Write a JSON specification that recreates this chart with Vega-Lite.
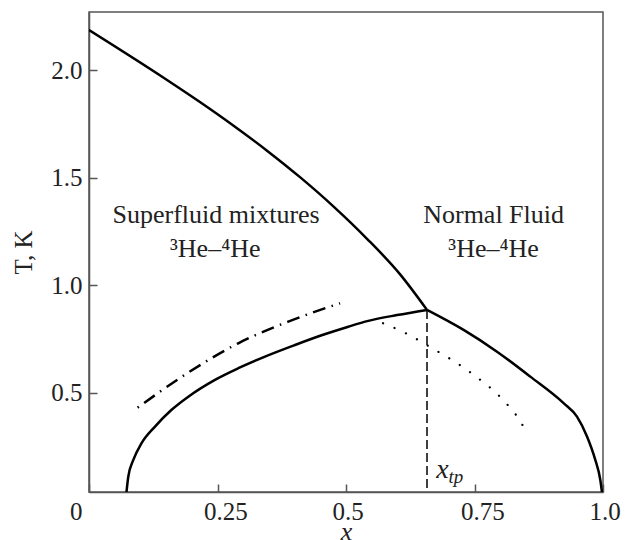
{
  "$schema": "https://vega.github.io/schema/vega-lite/v6.json",
  "width": 514,
  "height": 480,
  "autosize": {"type": "none"},
  "padding": {"left": 89, "top": 12, "right": 31, "bottom": 48},
  "background": "white",
  "config": {
    "view": {"stroke": "#555", "strokeWidth": 1.5},
    "font": "Liberation Serif",
    "axis": {
      "domainColor": "#555", "domainWidth": 1.5,
      "tickColor": "#555", "tickWidth": 1.5, "tickSize": -8,
      "grid": false,
      "labelFont": "Liberation Serif", "labelFontSize": 25, "labelColor": "#222",
      "titleFont": "Liberation Serif", "titleFontWeight": "normal", "titleColor": "#222"
    }
  },
  "datasets": {
    "curves": [
      {"series": "lambda", "x": 0.0, "T": 2.186},
      {"series": "lambda", "x": 0.1518, "T": 1.954},
      {"series": "lambda", "x": 0.2165, "T": 1.8505},
      {"series": "lambda", "x": 0.2813, "T": 1.7416},
      {"series": "lambda", "x": 0.3463, "T": 1.6259},
      {"series": "lambda", "x": 0.4111, "T": 1.5015},
      {"series": "lambda", "x": 0.4759, "T": 1.366},
      {"series": "lambda", "x": 0.5409, "T": 1.2165},
      {"series": "lambda", "x": 0.6057, "T": 1.05},
      {"series": "lambda", "x": 0.6576, "T": 0.886},
      {"series": "left", "x": 0.0712, "T": 0.0},
      {"series": "left", "x": 0.0765, "T": 0.112},
      {"series": "left", "x": 0.0862, "T": 0.189},
      {"series": "left", "x": 0.1023, "T": 0.267},
      {"series": "left", "x": 0.1284, "T": 0.344},
      {"series": "left", "x": 0.1607, "T": 0.422},
      {"series": "left", "x": 0.1932, "T": 0.483},
      {"series": "left", "x": 0.2451, "T": 0.561},
      {"series": "left", "x": 0.2905, "T": 0.615},
      {"series": "left", "x": 0.3424, "T": 0.669},
      {"series": "left", "x": 0.4008, "T": 0.723},
      {"series": "left", "x": 0.4525, "T": 0.768},
      {"series": "left", "x": 0.5045, "T": 0.808},
      {"series": "left", "x": 0.5434, "T": 0.835},
      {"series": "left", "x": 0.5992, "T": 0.862},
      {"series": "left", "x": 0.6576, "T": 0.886},
      {"series": "right", "x": 0.6576, "T": 0.886},
      {"series": "right", "x": 0.7288, "T": 0.793},
      {"series": "right", "x": 0.7938, "T": 0.692},
      {"series": "right", "x": 0.8586, "T": 0.576},
      {"series": "right", "x": 0.9233, "T": 0.453},
      {"series": "right", "x": 0.9494, "T": 0.39},
      {"series": "right", "x": 0.9689, "T": 0.298},
      {"series": "right", "x": 0.985, "T": 0.189},
      {"series": "right", "x": 0.9947, "T": 0.097},
      {"series": "right", "x": 1.0, "T": 0.0},
      {"series": "dashdot", "x": 0.0946, "T": 0.432},
      {"series": "dashdot", "x": 0.1932, "T": 0.595},
      {"series": "dashdot", "x": 0.2905, "T": 0.731},
      {"series": "dashdot", "x": 0.3877, "T": 0.8315},
      {"series": "dashdot", "x": 0.4883, "T": 0.917},
      {"series": "dotted", "x": 0.572, "T": 0.824},
      {"series": "dotted", "x": 0.616, "T": 0.778},
      {"series": "dotted", "x": 0.6627, "T": 0.715},
      {"series": "dotted", "x": 0.747, "T": 0.587},
      {"series": "dotted", "x": 0.8054, "T": 0.468},
      {"series": "dotted", "x": 0.839, "T": 0.369},
      {"series": "dotted", "x": 0.851, "T": 0.318}
    ],
    "tp": [
      {"x": 0.6576, "T": 0.886, "T0": 0.0}
    ],
    "labels": [
      {"label": "Superfluid mixtures", "x": 0.2473, "T": 1.288},
      {"label": "³He–⁴He", "x": 0.2457, "T": 1.133},
      {"label": "Normal Fluid", "x": 0.7872, "T": 1.288},
      {"label": "³He–⁴He", "x": 0.7872, "T": 1.133}
    ],
    "xtp": [
      {"label": "x", "x": 0.6757, "T": 0.1045}
    ],
    "xtpsub": [
      {"label": "tp", "x": 0.6996, "T": 0.081}
    ]
  },
  "encoding": {
    "x": {
      "field": "x", "type": "quantitative",
      "scale": {"domain": [0, 1], "nice": false, "zero": false},
      "axis": {
        "title": "x", "titleFontStyle": "italic", "titleFontSize": 26, "titlePadding": -6,
        "values": [0, 0.25, 0.5, 0.75, 1],
        "labelExpr": "datum.value == 0 ? '0' : datum.value == 1 ? '1.0' : '' + datum.value",
        "labelAlign": {"condition": {"test": "datum.value == 0", "value": "right"}, "value": "left"},
        "labelOffset": {"condition": {"test": "datum.value == 0", "value": -7}, "value": -14},
        "labelPadding": 15, "labelFlush": false, "labelOverlap": false
      }
    },
    "y": {
      "field": "T", "type": "quantitative",
      "scale": {"domain": [0.04, 2.27], "nice": false, "zero": false},
      "axis": {
        "title": "T, K", "titleFontSize": 25, "titlePadding": 14,
        "values": [0.5, 1.0, 1.5, 2.0], "format": ".1f",
        "labelPadding": 15
      }
    }
  },
  "layer": [
    {
      "data": {"name": "curves"},
      "transform": [{"filter": "datum.series == 'lambda' || datum.series == 'left' || datum.series == 'right'"}],
      "mark": {"type": "line", "interpolate": "monotone", "color": "#000", "strokeWidth": 2.5, "clip": true},
      "encoding": {"detail": {"field": "series"}}
    },
    {
      "data": {"name": "curves"},
      "transform": [{"filter": "datum.series == 'dashdot'"}],
      "mark": {"type": "line", "interpolate": "monotone", "color": "#000", "strokeWidth": 2.5, "strokeDash": [1.5, 6.5, 13, 6.5]}
    },
    {
      "data": {"name": "curves"},
      "transform": [{"filter": "datum.series == 'dotted'"}],
      "mark": {"type": "line", "interpolate": "monotone", "color": "#000", "strokeWidth": 2.2, "strokeCap": "round", "strokeDash": [0.1, 12.4]}
    },
    {
      "data": {"name": "tp"},
      "mark": {"type": "rule", "color": "#000", "strokeWidth": 1.5, "strokeDash": [9, 4], "clip": true},
      "encoding": {"y2": {"field": "T0"}}
    },
    {
      "data": {"name": "labels"},
      "mark": {"type": "text", "font": "Liberation Serif", "fontSize": 26, "color": "#222", "align": "center", "baseline": "alphabetic"},
      "encoding": {"text": {"field": "label"}}
    },
    {
      "data": {"name": "xtp"},
      "mark": {"type": "text", "font": "Liberation Serif", "fontSize": 28, "fontStyle": "italic", "color": "#222", "align": "left", "baseline": "alphabetic"},
      "encoding": {"text": {"field": "label"}}
    },
    {
      "data": {"name": "xtpsub"},
      "mark": {"type": "text", "font": "Liberation Serif", "fontSize": 19, "fontStyle": "italic", "color": "#222", "align": "left", "baseline": "alphabetic"},
      "encoding": {"text": {"field": "label"}}
    }
  ]
}
